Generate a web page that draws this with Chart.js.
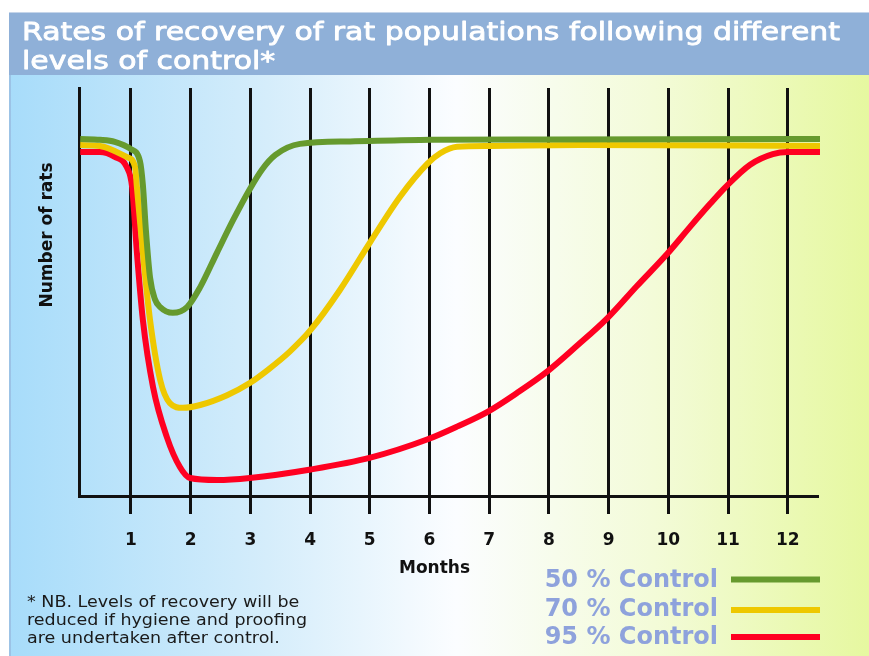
<!DOCTYPE html>
<html>
<head>
<meta charset="utf-8">
<title>Rates of recovery of rat populations</title>
<script src="https://cdn.jsdelivr.net/npm/chart.js@4.4.1/dist/chart.umd.min.js"></script>
<style>
    html, body { margin: 0; padding: 0; background: #ffffff; }
    #wrap { position: relative; width: 869px; height: 656px; }
</style>
</head>
<body>
<div id="wrap"><canvas id="ratChart" width="869" height="656"></canvas></div>
<script>
// texts
const titleLines = ['Rates of recovery of rat populations following different', 'levels of control*'];
const footnoteLines = ['* NB. Levels of recovery will be', 'reduced if hygiene and proofing', 'are undertaken after control.'];
const xAxisTitle = 'Months';
const yAxisTitle = 'Number of rats';

// x ticks
const monthTicks = [1, 2, 3, 4, 5, 6, 7, 8, 9, 10, 11, 12];

// series (months, relative number of rats 0-100)
const seriesLabels = ['50 % Control', '70 % Control', '95 % Control'];
const seriesColors = ['#669a2e', '#eec800', '#ff0021'];

const months50 = [0.15, 0.48, 0.73, 1.0, 1.15, 1.2, 1.25, 1.32, 1.4, 1.49, 1.7, 1.94, 2.16, 2.44, 2.71, 2.99, 3.2, 3.42, 3.83, 4.67, 6.01, 8.02, 12.54];
const rats50   = [87.5, 87.3, 86.8, 85.0, 82.1, 76.2, 65.2, 53.5, 48.3, 46.3, 44.9, 46.3, 51.2, 59.6, 67.6, 75.2, 80.1, 83.6, 86.3, 86.9, 87.3, 87.4, 87.5];

const months70 = [0.15, 0.48, 0.93, 1.07, 1.1, 1.2, 1.32, 1.49, 1.65, 1.87, 2.16, 2.61, 2.99, 3.3, 3.66, 4.01, 4.5, 5.01, 5.51, 5.97, 6.18, 6.46, 7.01, 8.52, 12.54];
const rats70   = [86.0, 85.8, 83.1, 80.6, 75.7, 59.6, 43.1, 28.4, 22.8, 21.6, 22.3, 24.7, 27.7, 31.0, 35.4, 40.7, 50.5, 62.3, 73.4, 81.5, 84.0, 85.6, 85.8, 86.0, 85.8];

const months95 = [0.15, 0.48, 0.73, 0.93, 1.02, 1.1, 1.2, 1.37, 1.6, 1.82, 1.99, 2.44, 2.99, 4.01, 5.01, 5.97, 6.46, 6.98, 7.46, 7.98, 8.47, 8.98, 9.47, 9.99, 10.36, 10.7, 10.95, 11.37, 11.75, 12.0, 12.54];
const rats95   = [84.3, 84.3, 83.1, 80.6, 75.7, 59.6, 43.1, 26.7, 14.5, 7.1, 4.4, 3.9, 4.4, 6.5, 9.4, 13.9, 17.0, 20.7, 25.2, 30.6, 36.8, 43.6, 51.4, 59.5, 65.9, 71.6, 75.6, 81.2, 83.8, 84.3, 84.3];

const FONT = '"DejaVu Sans", "Liberation Sans", sans-serif';

// 背景、标题、图例、注释
const decorPlugin = {
    id: 'decor',
    beforeDraw(chart) {
        const ctx = chart.ctx;
        const W = chart.width, H = chart.height;
        ctx.save();
        ctx.fillStyle = '#ffffff';
        ctx.fillRect(0, 0, W, H);

        // gradient panel
        const g = ctx.createLinearGradient(9, 0, W, 0);
        g.addColorStop(0, '#a7dcfa');
        g.addColorStop(0.3, '#d5edfb');
        g.addColorStop(0.52, '#fbfdff');
        g.addColorStop(0.75, '#f3fbd8');
        g.addColorStop(1, '#e6f8a0');
        ctx.fillStyle = g;
        ctx.fillRect(9, 75, W - 9, H - 75);
        ctx.fillStyle = '#9cc3e6';
        ctx.fillRect(9, 75, 2, H - 75);

        // banner
        ctx.fillStyle = '#8fb0d8';
        ctx.fillRect(9, 12, W - 9, 63);
        ctx.fillStyle = '#c5d5ea';
        ctx.fillRect(9, 12, W - 9, 1);
        ctx.restore();
    },
    afterDraw(chart) {
        const ctx = chart.ctx;
        ctx.save();

        // title, stretched to the banner width
        ctx.fillStyle = '#ffffff';
        ctx.strokeStyle = '#ffffff';
        ctx.lineWidth = 0.8;
        ctx.lineJoin = 'round';
        ctx.font = '25px ' + FONT;
        ctx.textBaseline = 'alphabetic';
        ctx.textAlign = 'left';
        const sx = 818 / ctx.measureText(titleLines[0]).width;
        ctx.save();
        ctx.translate(22, 0);
        ctx.scale(sx, 1);
        titleLines.forEach((line, i) => {
            ctx.fillText(line, 0, 39.5 + i * 29);
            ctx.strokeText(line, 0, 39.5 + i * 29);
        });
        ctx.restore();

        // axis titles
        ctx.fillStyle = '#111111';
        ctx.font = 'bold 17px ' + FONT;
        ctx.textAlign = 'center';
        ctx.fillText(xAxisTitle, 434.5, 573);
        ctx.save();
        ctx.translate(52, 235);
        ctx.rotate(-Math.PI / 2);
        ctx.fillText(yAxisTitle, 0, 0);
        ctx.restore();

        // footnote
        ctx.fillStyle = '#1a1a1a';
        ctx.font = '15.5px ' + FONT;
        ctx.textAlign = 'left';
        const fx = 280 / ctx.measureText(footnoteLines[1]).width;
        ctx.save();
        ctx.translate(27, 0);
        ctx.scale(fx, 1);
        footnoteLines.forEach((line, i) => {
            ctx.fillText(line, 0, 606.5 + i * 18.3);
        });
        ctx.restore();

        // legend: text then line
        const textBase = [587, 615.5, 644];
        const lineY = [579.5, 610, 637];
        ctx.font = 'bold 24px ' + FONT;
        ctx.textAlign = 'right';
        chart.data.datasets.forEach((ds, i) => {
            ctx.fillStyle = '#8ea2dc';
            ctx.fillText(ds.label, 718, textBase[i]);
            ctx.strokeStyle = ds.borderColor;
            ctx.lineWidth = 6;
            ctx.lineCap = 'butt';
            ctx.beginPath();
            ctx.moveTo(731, lineY[i]);
            ctx.lineTo(820, lineY[i]);
            ctx.stroke();
        });

        ctx.restore();
    }
};

function buildSeries(xs, ys) {
    return xs.map((x, i) => ({ x: x, y: ys[i] }));
}

const seriesData = [
    buildSeries(months50, rats50),
    buildSeries(months70, rats70),
    buildSeries(months95, rats95)
];

const ctx = document.getElementById('ratChart').getContext('2d');
const ratChart = new Chart(ctx, {
    type: 'line',
    data: {
        datasets: seriesData.map((data, i) => ({
            label: seriesLabels[i],
            data: data,
            borderColor: seriesColors[i],
            backgroundColor: seriesColors[i],
            borderWidth: 6,
            pointRadius: 0,
            fill: false,
            cubicInterpolationMode: 'monotone',
            borderJoinStyle: 'round',
            clip: false
        }))
    },
    options: {
        responsive: false,
        animation: false,
        devicePixelRatio: 1,
        layout: {
            padding: { top: 88, left: 79, right: 52, bottom: 60 }
        },
        plugins: {
            legend: { display: false },
            title: { display: false },
            tooltip: { enabled: false }
        },
        scales: {
            x: {
                type: 'linear',
                min: 0.13,
                max: 12.49,
                afterBuildTicks: (scale) => {
                    scale.ticks = monthTicks.map(v => ({ value: v }));
                },
                afterFit: (scale) => { scale.height = 100; },
                ticks: {
                    color: '#111111',
                    padding: 16,
                    maxRotation: 0,
                    autoSkip: false,
                    font: { family: FONT, size: 17, weight: 'bold' },
                    callback: (value) => String(value)
                },
                grid: {
                    color: '#111111',
                    lineWidth: 3,
                    tickLength: 18,
                    drawOnChartArea: true,
                    drawTicks: true
                },
                border: { display: true, color: '#111111', width: 3 }
            },
            y: {
                min: 0,
                max: 100,
                afterFit: (scale) => { scale.width = 0; },
                ticks: { display: false },
                grid: { display: false },
                border: { display: true, color: '#111111', width: 3 }
            }
        }
    },
    plugins: [decorPlugin]
});
</script>
</body>
</html>
